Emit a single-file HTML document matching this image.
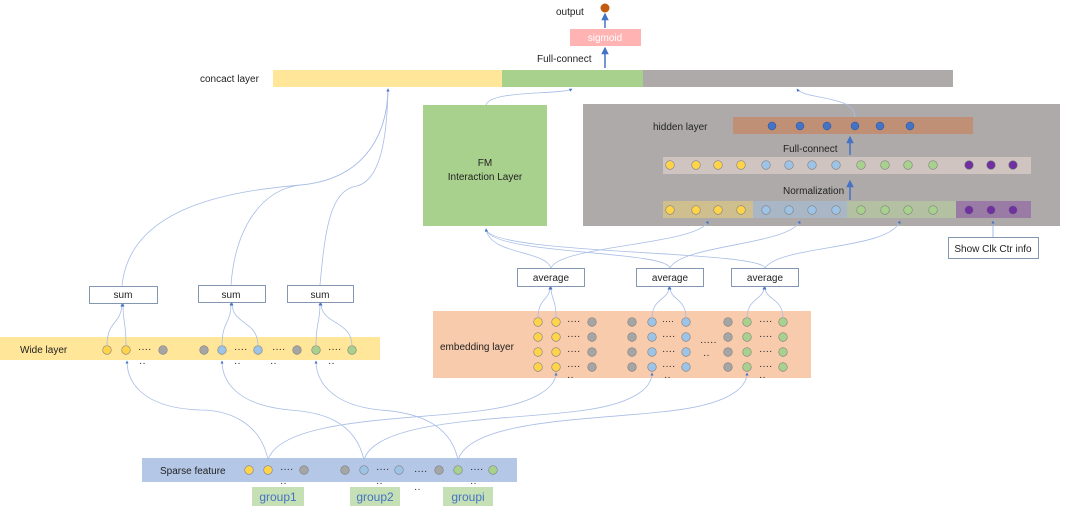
<!DOCTYPE html>
<html><head><meta charset="utf-8"><style>
body{margin:0;background:#fff;}
svg text{font-family:"Liberation Sans",sans-serif;font-size:10px;fill:#222;}
</style></head><body>
<svg width="1080" height="512" viewBox="0 0 1080 512" xmlns="http://www.w3.org/2000/svg">
<defs>
<marker id="a" viewBox="0 0 6 6" refX="5" refY="3" markerWidth="5" markerHeight="5" orient="auto"><path d="M0,0L6,3L0,6z" fill="#4472c4"/></marker>
<marker id="b" viewBox="0 0 6 6" refX="5" refY="3" markerWidth="4" markerHeight="4" orient="auto"><path d="M0,0L6,3L0,6z" fill="#4472c4"/></marker>
</defs>
<!-- top -->
<text x="556" y="15">output</text>
<circle cx="605" cy="8" r="4.5" fill="#c55a11"/>
<rect x="570" y="29" width="71" height="17" fill="#ffb3b3"/>
<text x="605" y="41" text-anchor="middle" style="fill:#fff">sigmoid</text>
<line x1="605" y1="68" x2="605" y2="48" stroke="#4472c4" stroke-width="1.5" marker-end="url(#a)"/>
<line x1="605" y1="28" x2="605" y2="14" stroke="#4472c4" stroke-width="1.5" marker-end="url(#a)"/>
<text x="537" y="62">Full-connect</text>
<text x="200" y="82">concact layer</text>
<rect x="273" y="70" width="229" height="17" fill="#ffe699"/>
<rect x="502" y="70" width="141" height="17" fill="#a9d18e"/>
<rect x="643" y="70" width="310" height="17" fill="#aeaaaa"/>
<!-- FM -->
<rect x="423" y="105" width="124" height="121" fill="#a9d18e"/>
<text x="485" y="166" text-anchor="middle">FM</text>
<text x="485" y="180" text-anchor="middle">Interaction Layer</text>
<!-- gray box -->
<rect x="583" y="104" width="477" height="122" fill="#aeaaaa"/>
<text x="653" y="130">hidden layer</text>
<rect x="733" y="117" width="240" height="17" fill="#bf9076"/>
<g fill="#4472c4" stroke="#2f528f" stroke-width="0.5">
<circle cx="772" cy="126" r="4"/><circle cx="800" cy="126" r="4"/><circle cx="827" cy="126" r="4"/><circle cx="855" cy="126" r="4"/><circle cx="880" cy="126" r="4"/><circle cx="910" cy="126" r="4"/></g>
<line x1="850" y1="155" x2="850" y2="137" stroke="#4472c4" stroke-width="1.5" marker-end="url(#a)"/>
<text x="783" y="152">Full-connect</text>
<rect x="663" y="157" width="368" height="17" fill="#d0c4c0"/>
<rect x="663" y="201" width="90" height="17" fill="#cfbf8e"/>
<rect x="753" y="201" width="94" height="17" fill="#a9b6c6"/>
<rect x="847" y="201" width="109" height="17" fill="#b3c1a2"/>
<rect x="956" y="201" width="75" height="17" fill="#9a7ba6"/>
<text x="783" y="194">Normalization</text>
<line x1="850" y1="200" x2="850" y2="181" stroke="#4472c4" stroke-width="1.5" marker-end="url(#a)"/>
<g stroke="#7f7f7f" stroke-width="0.6">
<g fill="#ffd34a"><circle cx="670" cy="165" r="4.3"/><circle cx="696" cy="165" r="4.3"/><circle cx="718" cy="165" r="4.3"/><circle cx="741" cy="165" r="4.3"/>
<circle cx="670" cy="210" r="4.3"/><circle cx="696" cy="210" r="4.3"/><circle cx="718" cy="210" r="4.3"/><circle cx="741" cy="210" r="4.3"/></g>
<g fill="#9dc3e6"><circle cx="766" cy="165" r="4.3"/><circle cx="789" cy="165" r="4.3"/><circle cx="812" cy="165" r="4.3"/><circle cx="836" cy="165" r="4.3"/>
<circle cx="766" cy="210" r="4.3"/><circle cx="789" cy="210" r="4.3"/><circle cx="812" cy="210" r="4.3"/><circle cx="836" cy="210" r="4.3"/></g>
<g fill="#a9d18e"><circle cx="861" cy="165" r="4.3"/><circle cx="885" cy="165" r="4.3"/><circle cx="908" cy="165" r="4.3"/><circle cx="933" cy="165" r="4.3"/>
<circle cx="861" cy="210" r="4.3"/><circle cx="885" cy="210" r="4.3"/><circle cx="908" cy="210" r="4.3"/><circle cx="933" cy="210" r="4.3"/></g>
<g fill="#7030a0"><circle cx="969" cy="165" r="4.3"/><circle cx="991" cy="165" r="4.3"/><circle cx="1013" cy="165" r="4.3"/>
<circle cx="969" cy="210" r="4.3"/><circle cx="991" cy="210" r="4.3"/><circle cx="1013" cy="210" r="4.3"/></g>
</g>
<rect x="948.5" y="237.5" width="90" height="21" fill="#fff" stroke="#8497b0"/>
<text x="993" y="252" text-anchor="middle">Show Clk Ctr info</text>
<line x1="993" y1="237" x2="993" y2="221" stroke="#8faadc" stroke-width="0.8" marker-end="url(#b)"/>
<!-- averages -->
<g fill="#fff" stroke="#8497b0"><rect x="517.5" y="268.5" width="67" height="18"/><rect x="636.5" y="268.5" width="67" height="18"/><rect x="731.5" y="268.5" width="67" height="18"/></g>
<text x="551" y="281" text-anchor="middle">average</text><text x="670" y="281" text-anchor="middle">average</text><text x="765" y="281" text-anchor="middle">average</text>
<!-- embedding -->
<rect x="433" y="311" width="378" height="67" fill="#f8cbad"/>
<text x="440" y="350">embedding layer</text>
<g stroke="#7f7f7f" stroke-width="0.6">
<g fill="#ffd34a"><circle cx="538" cy="322" r="4.3"/><circle cx="538" cy="337" r="4.3"/><circle cx="538" cy="352" r="4.3"/><circle cx="538" cy="367" r="4.3"/><circle cx="556" cy="322" r="4.3"/><circle cx="556" cy="337" r="4.3"/><circle cx="556" cy="352" r="4.3"/><circle cx="556" cy="367" r="4.3"/></g>
<g fill="#a5a5a5"><circle cx="592" cy="322" r="4.3"/><circle cx="592" cy="337" r="4.3"/><circle cx="592" cy="352" r="4.3"/><circle cx="592" cy="367" r="4.3"/>
<circle cx="632" cy="322" r="4.3"/><circle cx="632" cy="337" r="4.3"/><circle cx="632" cy="352" r="4.3"/><circle cx="632" cy="367" r="4.3"/>
<circle cx="728" cy="322" r="4.3"/><circle cx="728" cy="337" r="4.3"/><circle cx="728" cy="352" r="4.3"/><circle cx="728" cy="367" r="4.3"/></g>
<g fill="#9dc3e6"><circle cx="652" cy="322" r="4.3"/><circle cx="652" cy="337" r="4.3"/><circle cx="652" cy="352" r="4.3"/><circle cx="652" cy="367" r="4.3"/><circle cx="686" cy="322" r="4.3"/><circle cx="686" cy="337" r="4.3"/><circle cx="686" cy="352" r="4.3"/><circle cx="686" cy="367" r="4.3"/></g>
<g fill="#a9d18e"><circle cx="747" cy="322" r="4.3"/><circle cx="747" cy="337" r="4.3"/><circle cx="747" cy="352" r="4.3"/><circle cx="747" cy="367" r="4.3"/><circle cx="783" cy="322" r="4.3"/><circle cx="783" cy="337" r="4.3"/><circle cx="783" cy="352" r="4.3"/><circle cx="783" cy="367" r="4.3"/></g>
</g>
<g font-size="9"><text x="567" y="324">····</text><text x="567" y="339">····</text><text x="567" y="354">····</text><text x="567" y="369">····</text><text x="567" y="380">··</text>
<text x="662" y="324" style="font-size:9px">····</text><text x="662" y="339">····</text><text x="662" y="354">····</text><text x="662" y="369">····</text><text x="664" y="380">··</text>
<text x="700" y="345">·····</text><text x="703" y="358">··</text>
<text x="759" y="324">····</text><text x="759" y="339">····</text><text x="759" y="354">····</text><text x="759" y="369">····</text><text x="759" y="380">··</text></g>
<!-- sums -->
<g fill="#fff" stroke="#8497b0"><rect x="89.5" y="286.5" width="68" height="17"/><rect x="198.5" y="285.5" width="67" height="17"/><rect x="287.5" y="285.5" width="66" height="17"/></g>
<text x="123" y="298" text-anchor="middle">sum</text><text x="231" y="298" text-anchor="middle">sum</text><text x="320" y="298" text-anchor="middle">sum</text>
<!-- wide -->
<rect x="0" y="337" width="380" height="23" fill="#ffe699"/>
<text x="20" y="353">Wide layer</text>
<g stroke="#7f7f7f" stroke-width="0.6">
<circle cx="107" cy="350" r="4.3" fill="#ffd34a"/><circle cx="126" cy="350" r="4.3" fill="#ffd34a"/><circle cx="163" cy="350" r="4.3" fill="#a5a5a5"/>
<circle cx="204" cy="350" r="4.3" fill="#a5a5a5"/><circle cx="222" cy="350" r="4.3" fill="#9dc3e6"/><circle cx="258" cy="350" r="4.3" fill="#9dc3e6"/>
<circle cx="297" cy="350" r="4.3" fill="#a5a5a5"/><circle cx="316" cy="350" r="4.3" fill="#a9d18e"/><circle cx="352" cy="350" r="4.3" fill="#a9d18e"/></g>
<text x="138" y="352">····</text><text x="234" y="352">····</text><text x="272" y="352">····</text><text x="328" y="352">····</text>
<text x="139" y="366">··</text><text x="234" y="366">··</text><text x="270" y="366">··</text><text x="328" y="366">··</text>
<!-- sparse -->
<rect x="142" y="458" width="375" height="24" fill="#b4c7e7"/>
<text x="160" y="474">Sparse feature</text>
<g stroke="#7f7f7f" stroke-width="0.6">
<circle cx="249" cy="470" r="4.3" fill="#ffd34a"/><circle cx="268" cy="470" r="4.3" fill="#ffd34a"/><circle cx="304" cy="470" r="4.3" fill="#a5a5a5"/>
<circle cx="345" cy="470" r="4.3" fill="#a5a5a5"/><circle cx="364" cy="470" r="4.3" fill="#9dc3e6"/><circle cx="399" cy="470" r="4.3" fill="#9dc3e6"/>
<circle cx="439" cy="470" r="4.3" fill="#a5a5a5"/><circle cx="458" cy="470" r="4.3" fill="#a9d18e"/><circle cx="493" cy="470" r="4.3" fill="#a9d18e"/></g>
<text x="280" y="472">····</text><text x="376" y="472">····</text><text x="414" y="474">····</text><text x="470" y="472">····</text>
<text x="280" y="486">··</text><text x="376" y="486">··</text><text x="414" y="492">··</text><text x="470" y="486">··</text>
<g fill="#c5e0b4"><rect x="252" y="487" width="52" height="19"/><rect x="350" y="487" width="50" height="19"/><rect x="443" y="487" width="50" height="19"/></g>
<g style="font-size:12px"><text x="278" y="501" text-anchor="middle" style="fill:#4472c4;font-size:12px">group1</text><text x="375" y="501" text-anchor="middle" style="fill:#4472c4;font-size:12px">group2</text><text x="468" y="501" text-anchor="middle" style="fill:#4472c4;font-size:12px">groupi</text></g>
<!-- connectors -->
<g fill="none" stroke="#a8bde6" stroke-width="0.8" marker-end="url(#b)">
<path d="M122,286 C130,200 250,190 300,185 C360,180 387,140 388,89"/>
<path d="M231,285 C235,230 260,190 300,185 C360,180 387,140 388,89"/>
<path d="M320,285 C325,230 330,190 357,186 C380,180 387,140 388,89"/>
<path d="M486,105 C490,90 560,95 572,89"/>
<path d="M855,117 C855,95 805,100 797,89"/>
<path d="M551,268 C545,250 490,255 486,229"/>
<path d="M670,268 C665,250 490,255 486,229"/>
<path d="M765,268 C760,250 490,255 486,229"/>
<path d="M551,268 C560,245 700,245 708,221"/>
<path d="M670,268 C680,245 790,245 800,221"/>
<path d="M765,268 C780,245 890,250 900,221"/>
<path d="M268,460 C260,420 225,410 200,410 C140,408 127,380 127,361"/>
<path d="M364,460 C355,420 320,412 290,410 C235,405 222,380 222,361"/>
<path d="M458,460 C450,420 410,412 380,410 C330,405 316,380 316,361"/>
<path d="M268,460 C280,420 400,420 470,412 C540,405 556,385 556,373"/>
<path d="M364,460 C375,420 500,420 570,412 C640,405 652,385 652,373"/>
<path d="M458,460 C470,420 590,420 660,412 C735,405 747,385 747,373"/>
<path d="M107,346 C107,320 121,325 122,304"/>
<path d="M126,346 C126,320 123,325 123,304"/>
<path d="M222,346 C222,320 231,325 231,303"/>
<path d="M258,346 C258,320 232,325 232,303"/>
<path d="M316,346 C316,320 320,325 320,303"/>
<path d="M352,346 C352,320 321,325 321,303"/>
<path d="M538,318 C538,298 550,300 550,287"/>
<path d="M556,318 C556,298 551,300 551,287"/>
<path d="M652,318 C652,298 669,300 669,287"/>
<path d="M686,318 C686,298 670,300 670,287"/>
<path d="M747,318 C747,298 764,300 764,287"/>
<path d="M783,318 C783,298 765,300 765,287"/>
</g>
</svg>
</body></html>
